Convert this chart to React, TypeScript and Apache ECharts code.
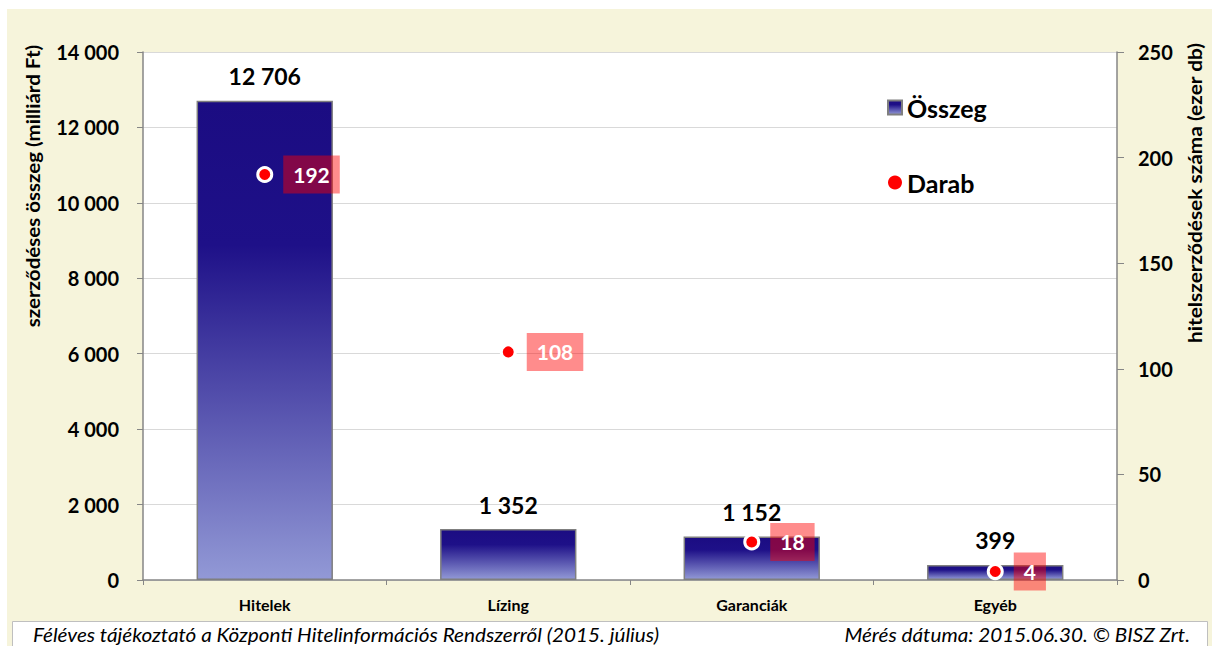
import React, { useEffect, useRef } from "react";
import * as echarts from "echarts";

const categories = ["Hitelek", "Lízing", "Garanciák", "Egyéb"];
const amounts = [12706, 1352, 1152, 399];
const counts = [192, 108, 18, 4];
const leftTicks = { min: 0, max: 14000, interval: 2000 };
const rightTicks = { min: 0, max: 250, interval: 50 };
const leftAxisName = "szerződéses összeg (milliárd Ft)";
const rightAxisName = "hitelszerződések száma (ezer db)";
const footerLeft = "Féléves tájékoztató a Központi Hitelinformációs Rendszerről (2015. július)";
const footerRight = "Mérés dátuma: 2015.06.30. © BISZ Zrt.";

const fmt = (v: number) => String(v).replace(/\B(?=(\d{3})+(?!\d))/g, " ");
const FONT = "Lato, 'Open Sans', sans-serif";

export default function App() {
  const ref = useRef<HTMLDivElement>(null);
  useEffect(() => {
    if (!ref.current) return;
    const chart = echarts.init(ref.current, undefined, { renderer: "svg" });
    const barGrad = new echarts.graphic.LinearGradient(0, 0, 0, 1, [
      { offset: 0, color: "#1B0C82" },
      { offset: 0.3, color: "#1E1088" },
      { offset: 1, color: "#9299D6" },
    ]);
    chart.setOption({
      animation: false,
      backgroundColor: "transparent",
      textStyle: { fontFamily: FONT },
      grid: {
        left: 143,
        right: 95,
        top: 52,
        bottom: 66,
        show: true,
        backgroundColor: "#FFFFFF",
        borderWidth: 0,
      },
      legend: {
        orient: "vertical",
        left: 882,
        top: 90,
        itemGap: 50,
        itemWidth: 14,
        itemHeight: 14,
        textStyle: { fontSize: 25, fontWeight: "bold", color: "#000", fontFamily: FONT },
        data: [
          { name: "Összeg", icon: "rect" },
          { name: "Darab", icon: "circle", itemStyle: { borderWidth: 0 } },
        ],
      },
      xAxis: {
        type: "category",
        data: categories,
        axisLine: { lineStyle: { color: "#868686", width: 1.5 } },
        axisTick: { show: true, length: 5, lineStyle: { color: "#868686" } },
        axisLabel: { fontSize: 16, fontWeight: "bold", color: "#000", margin: 16, fontFamily: FONT },
      },
      yAxis: [
        {
          type: "value",
          min: leftTicks.min,
          max: leftTicks.max,
          interval: leftTicks.interval,
          axisLine: { show: true, lineStyle: { color: "#868686", width: 1.5 } },
          axisTick: { show: true, length: 6, lineStyle: { color: "#868686" } },
          splitLine: { lineStyle: { color: "#D9D9D9", width: 1 } },
          axisLabel: {
            fontSize: 20,
            fontWeight: "bold",
            color: "#000",
            margin: 24,
            formatter: (v: number) => fmt(v),
            fontFamily: FONT,
          },
        },
        {
          type: "value",
          min: rightTicks.min,
          max: rightTicks.max,
          interval: rightTicks.interval,
          position: "right",
          axisLine: { show: true, lineStyle: { color: "#868686", width: 1.5 } },
          axisTick: { show: true, length: 7, lineStyle: { color: "#868686" } },
          splitLine: { show: false },
          axisLabel: { fontSize: 20, fontWeight: "bold", color: "#000", margin: 21, fontFamily: FONT },
        },
      ],
      series: [
        {
          name: "Összeg",
          type: "bar",
          data: amounts,
          barWidth: "56%",
          itemStyle: { color: barGrad, borderColor: "#7F7F7F", borderWidth: 1.5 },
          label: {
            show: true,
            position: "top",
            distance: 13,
            fontSize: 23,
            fontWeight: "bold",
            color: "#000",
            fontFamily: FONT,
            formatter: (p: any) => fmt(p.value),
          },
        },
        {
          name: "Darab",
          type: "scatter",
          yAxisIndex: 1,
          data: counts,
          symbolSize: 14,
          itemStyle: { color: "#FF0000", borderColor: "#FFFFFF", borderWidth: 3, opacity: 1 },
          label: {
            show: true,
            position: "right",
            distance: 10,
            backgroundColor: "rgba(255,0,0,0.45)",
            padding: [9, 10, 8, 10],
            color: "#FFFFFF",
            fontSize: 21,
            fontWeight: "bold",
            fontFamily: FONT,
          },
          z: 5,
        },
      ],
      graphic: [
        {
          type: "text",
          x: 33,
          y: 186,
          rotation: Math.PI / 2,
          scaleX: 1.14,
          style: {
            text: leftAxisName,
            fontSize: 18,
            fontWeight: "bold",
            fill: "#000",
            fontFamily: FONT,
            align: "center",
            verticalAlign: "middle",
          },
        },
        {
          type: "text",
          x: 1195,
          y: 193,
          rotation: Math.PI / 2,
          scaleX: 1.16,
          style: {
            text: rightAxisName,
            fontSize: 18,
            fontWeight: "bold",
            fill: "#000",
            fontFamily: FONT,
            align: "center",
            verticalAlign: "middle",
          },
        },
        {
          type: "rect",
          shape: { x: 12.5, y: 621.5, width: 1195, height: 40 },
          style: { fill: "#FFFFFF", stroke: "#BFBFBF", lineWidth: 1 },
        },
        {
          type: "text",
          x: 33,
          y: 634,
          scaleX: 1.09,
          style: {
            text: footerLeft,
            fontSize: 19,
            fontStyle: "italic",
            fill: "#000",
            fontFamily: FONT,
            verticalAlign: "middle",
          },
        },
        {
          type: "text",
          x: 1190,
          y: 634,
          scaleX: 1.09,
          style: {
            text: footerRight,
            fontSize: 19,
            fontStyle: "italic",
            fill: "#000",
            fontFamily: FONT,
            align: "right",
            verticalAlign: "middle",
          },
        },
      ],
    });
    return () => chart.dispose();
  }, []);
  return (
    <div style={{ position: "fixed", left: 0, top: 0, width: 1212, height: 646, background: "#FFFFFF" }}>
      <div style={{ position: "absolute", left: 7, top: 9, width: 1205, height: 637, background: "#F6F4DB" }} />
      <div ref={ref} style={{ position: "absolute", left: 0, top: 0, width: 1212, height: 646 }} />
    </div>
  );
}
